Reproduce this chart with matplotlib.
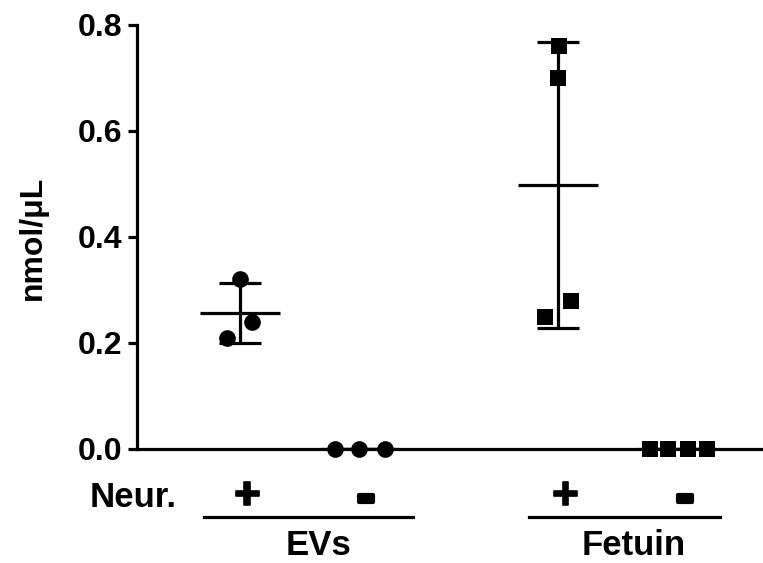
import numpy as np
import matplotlib
matplotlib.use("Agg")
import matplotlib.pyplot as plt
import matplotlib.patheffects as pe
from matplotlib.transforms import blended_transform_factory
from matplotlib.lines import Line2D

plt.rcParams['font.family'] = ['Liberation Sans', 'DejaVu Sans']
plt.rcParams['font.weight'] = 'bold'

# ---- data ----
groups = ["EVs", "Fetuin"]
neur_labels = ["+", "-", "+", "-"]
positions = [1.0, 2.02, 3.72, 4.74]
markers = ["o", "o", "s", "s"]
evs_plus = [0.32, 0.24, 0.21]
evs_minus = [0.0, 0.0, 0.0]
fet_plus = [0.76, 0.70, 0.28, 0.25]
fet_minus = [0.0, 0.0, 0.0, 0.0]
series = [evs_plus, evs_minus, fet_plus, fet_minus]
jitter = [[0.0, 0.10, -0.11], [-0.21, 0.0, 0.22],
          [0.01, 0.0, 0.11, -0.11], [-0.24, -0.08, 0.09, 0.25]]
yticks = [0.0, 0.2, 0.4, 0.6, 0.8]
ylabel = "nmol/\u03bcL"

W, H = 763, 563
fig = plt.figure(figsize=(W / 100, H / 100), dpi=100)
ax = fig.add_axes([137 / W, 1 - 449 / H, 1 - 137 / W, (449 - 25) / H])

lw = 2.3
for pos, vals, jit, mk in zip(positions, series, jitter, markers):
    vals = np.array(vals)
    m = vals.mean()
    sd = vals.std(ddof=1)
    ms = 12 if mk == "o" else 11.2
    ax.plot(pos + np.array(jit), vals, linestyle="none", marker=mk, ms=ms,
            color="black", mew=0, zorder=5, clip_on=False)
    ax.hlines(m, pos - 0.34, pos + 0.34, color="black", lw=lw, zorder=4)
    ax.errorbar([pos], [m], yerr=[sd], fmt="none", ecolor="black",
                elinewidth=lw, capsize=15, capthick=lw, zorder=4)

ax.set_xlim(0.12, 5.47)
ax.set_ylim(0, 0.8)
ax.set_yticks(yticks)
ax.set_yticklabels([f"{t:.1f}" for t in yticks], fontsize=23, fontweight="bold")
ax.set_xticks([])
ax.tick_params(axis="y", length=6.5, width=lw, pad=4)
for s in ["top", "right"]:
    ax.spines[s].set_visible(False)
for s in ["left", "bottom"]:
    ax.spines[s].set_linewidth(lw)
ax.spines["bottom"].set_zorder(3)

fig.text(33 / W, 1 - 238 / H, ylabel, rotation=90, ha="center", va="center",
         fontsize=23, fontweight="bold")

tr = blended_transform_factory(ax.transData, fig.transFigure)
fs = 25
fig.text(133 / W, 1 - 507 / H, "Neur.", ha="center", va="baseline",
         fontsize=fs, fontweight="bold")
for pos, lab in zip(positions, neur_labels):
    if lab == "+":
        sw, size, base = 1.2, 33, 509
    else:
        sw, size, base = 3.0, 40, 513
    ax.text(pos + 0.06, 1 - base / H, lab, transform=tr, ha="center",
            va="baseline", fontsize=size, fontweight="bold",
            path_effects=[pe.Stroke(linewidth=sw, foreground="black"), pe.Normal()])

group_spans = [(0.69, 2.48), (3.47, 5.10)]
group_text_x = [319, 634]
for (x0, x1), g, gx in zip(group_spans, groups, group_text_x):
    ln = Line2D([x0, x1], [1 - 517 / H] * 2, transform=tr, color="black",
                lw=lw, clip_on=False)
    fig.add_artist(ln)
    fig.text(gx / W, 1 - 555 / H, g, ha="center", va="baseline",
             fontsize=fs, fontweight="bold")

fig.savefig("out.png", dpi=100)
